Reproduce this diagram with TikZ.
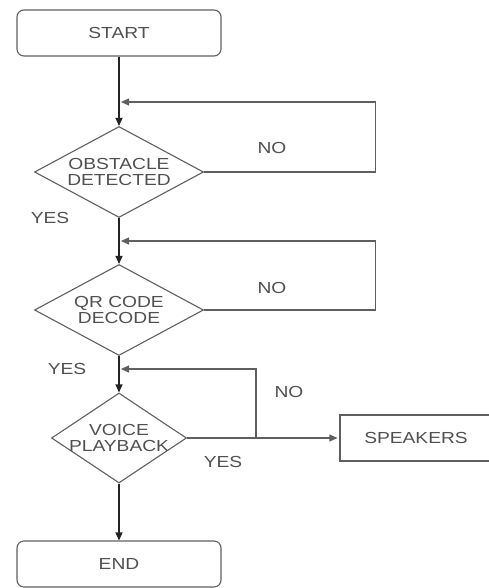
\documentclass[tikz,border=0pt]{standalone}
\usepackage{fontspec}
\newfontfamily\flowfont[FakeStretch=1.2]{Liberation Sans}
\definecolor{flowtext}{RGB}{80,80,80}
\definecolor{flowline}{RGB}{95,95,95}
\definecolor{flowarrow}{RGB}{35,35,35}
\usetikzlibrary{arrows.meta,shapes.geometric}

\begin{document}
\begin{tikzpicture}[x=1pt,y=-1pt,
  flowterm/.style={draw=flowline,rounded corners=7pt,minimum width=204pt,minimum height=46pt,
    font=\flowfont\fontsize{16}{16}\selectfont,text=flowtext,line width=1.1pt,inner sep=0pt},
  flowbox/.style={draw=flowline,minimum width=152pt,minimum height=46pt,
    font=\flowfont\fontsize{16}{16}\selectfont,text=flowtext,line width=1.1pt,inner sep=0pt},
  flowdecision/.style={draw=flowline,diamond,aspect=1.8,inner sep=0pt,align=center,
    font=\flowfont\fontsize{16}{16}\selectfont,text=flowtext,line width=1.1pt},
  flowlabel/.style={font=\flowfont\fontsize{16}{16}\selectfont,text=flowtext,inner sep=0pt},
  flowarr/.style={-{Triangle[length=8pt,width=7pt]},line width=1.3pt,flowarrow},
  flowloop/.style={-{Triangle[length=8pt,width=7pt]},line width=1.1pt,flowline,shorten >=2pt}
]
  \useasboundingbox (0,0) rectangle (489,588);

  % Start and end
  \node[flowterm] (start) at (119,33) {START};
  \node[flowterm] (end) at (119,564) {END};

  % Decisions
  \node[flowdecision,minimum width=169pt,minimum height=91pt] (obst) at (119,172) {OBSTACLE\\DETECTED};
  \node[flowdecision,minimum width=169pt,minimum height=91pt] (qr) at (119,310) {QR CODE\\DECODE};
  \node[flowdecision,aspect=1.5,inner xsep=-12pt,minimum width=135pt,minimum height=90pt] (voice) at (119,438) {VOICE\\PLAYBACK};

  % Output
  \node[flowbox] (spk) at (416,438) {SPEAKERS};

  % Junctions
  \coordinate (j1) at (119,102);
  \coordinate (j2) at (119,241);
  \coordinate (j3) at (119,369);
  \coordinate (split) at (256,438);

  % Main flow
  \draw[flowarr] (start) -- (obst);
  \draw[flowarr] (obst) -- (qr);
  \draw[flowarr] (qr) -- (voice);
  \draw[flowarr] (voice) -- (end);
  \draw[flowloop] (voice.east) -- (spk.west);

  % NO loops
  \draw[flowloop] (obst.east) -- ++(171,0) |- (j1);
  \draw[flowloop] (qr.east) -- ++(171,0) |- (j2);
  \draw[flowloop] (split) |- (j3);

  % Labels
  \node[flowlabel] (no1) at (272,148) {NO};
  \node[flowlabel] (yes1) at (50,218) {YES};
  \node[flowlabel] (no2) at (272,288) {NO};
  \node[flowlabel] (yes2) at (67,369) {YES};
  \node[flowlabel] (no3) at (289,392) {NO};
  \node[flowlabel] (yes3) at (223,462) {YES};
\end{tikzpicture}
\end{document}
